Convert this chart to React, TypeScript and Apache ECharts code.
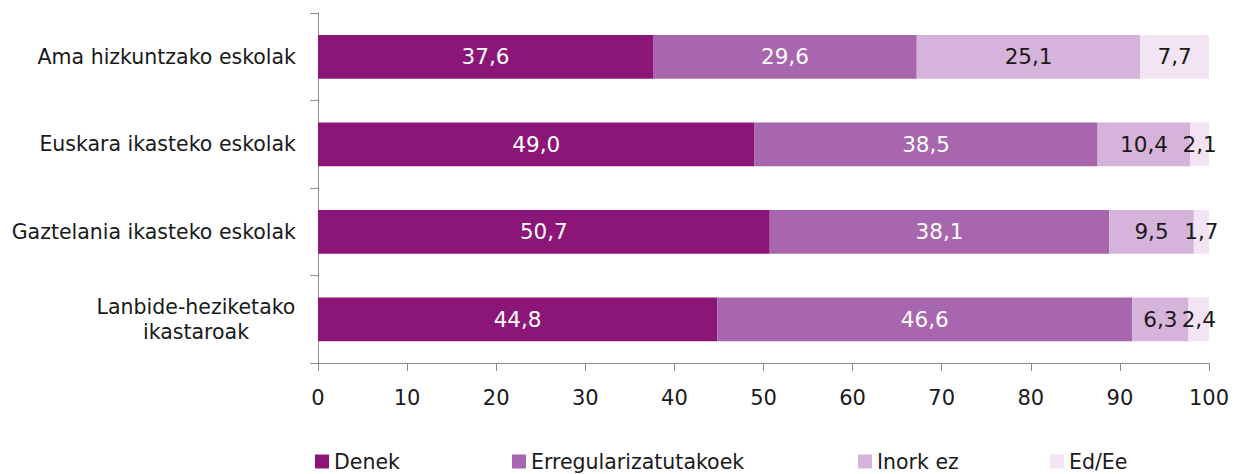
import React, { useEffect, useRef } from "react";
import * as echarts from "echarts";

const categories = [
  "Ama hizkuntzako eskolak",
  "Euskara ikasteko eskolak",
  "Gaztelania ikasteko eskolak",
  "Lanbide-heziketako\nikastaroak",
];
const seriesNames = ["Denek", "Erregularizatutakoek", "Inork ez", "Ed/Ee"];
const denek = [37.6, 49.0, 50.7, 44.8];
const erregularizatutakoek = [29.6, 38.5, 38.1, 46.6];
const inorkEz = [25.1, 10.4, 9.5, 6.3];
const edEe = [7.7, 2.1, 1.7, 2.4];
const xTicks = [0, 10, 20, 30, 40, 50, 60, 70, 80, 90, 100];

const colors = ["#8B1678", "#A866AE", "#D6B3DA", "#F2E4F2"];
const labelColors = ["#FFFFFF", "#FFFFFF", "#1A1A1A", "#1A1A1A"];
const FONT = "DejaVu Sans";

export default function App() {
  const ref = useRef<HTMLDivElement>(null);
  useEffect(() => {
    if (!ref.current) return;
    const chart = echarts.init(ref.current, null, { renderer: "svg" });
    const values = [denek, erregularizatutakoek, inorkEz, edEe];
    const legendLefts = [315, 512, 858, 1050];
    chart.setOption({
      animation: false,
      textStyle: { fontFamily: FONT },
      grid: { left: 318, right: 25, top: 13, bottom: 111, containLabel: false },
      legend: seriesNames.map((n, i) => ({
        data: [n],
        left: legendLefts[i],
        top: 451,
        padding: 0,
        itemWidth: 14,
        itemHeight: 14,
        icon: "rect",
        textStyle: { fontFamily: FONT, fontSize: 20.5, color: "#1A1A1A" },
        selectedMode: false,
      })),
      xAxis: {
        type: "value",
        min: 0,
        max: 100,
        interval: 10,
        axisLine: { show: true, lineStyle: { color: "#8C8C8C" } },
        axisTick: { show: true, inside: false, length: 8, lineStyle: { color: "#8C8C8C" } },
        splitLine: { show: false },
        axisLabel: {
          fontFamily: FONT,
          fontSize: 21,
          color: "#1A1A1A",
          margin: 24,
          formatter: (v: number) => (xTicks.includes(v) ? String(v) : ""),
        },
      },
      yAxis: {
        type: "category",
        data: categories,
        inverse: true,
        axisLine: { show: true, lineStyle: { color: "#8C8C8C" } },
        axisTick: { show: true, length: 8, lineStyle: { color: "#8C8C8C" } },
        axisLabel: {
          fontFamily: FONT,
          fontSize: 20.5,
          color: "#1A1A1A",
          margin: 22,
          lineHeight: 25,
          formatter: (v: string) =>
            v.includes("\n") ? v.split("\n").map((s) => `{c|${s}}`).join("\n") : v,
          rich: {
            c: {
              fontFamily: FONT,
              fontSize: 20.5,
              color: "#1A1A1A",
              width: 200,
              align: "center",
              lineHeight: 25,
            },
          },
        },
      },
      series: seriesNames.map((name, i) => ({
        name,
        type: "bar",
        stack: "total",
        barWidth: "50%",
        data: values[i],
        itemStyle: { color: colors[i] },
        label: {
          show: true,
          position: "inside",
          fontFamily: FONT,
          fontSize: 21.5,
          color: labelColors[i],
          formatter: (p: any) => p.value.toFixed(1).replace(".", ","),
        },
      })),
    });
    return () => chart.dispose();
  }, []);
  return <div ref={ref} style={{ width: 1234, height: 474, position: "absolute", left: 0, top: 0 }} />;
}
